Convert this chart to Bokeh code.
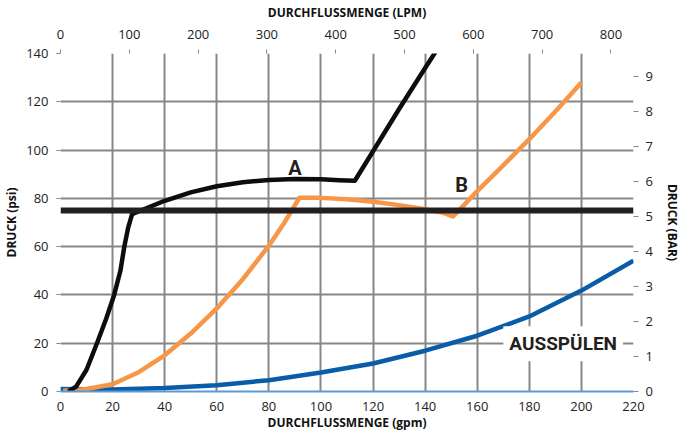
from bokeh.plotting import figure
from bokeh.models import Range1d, LinearAxis, FixedTicker, Span, Label
from bokeh.embed import file_html
from bokeh.resources import INLINE

# ---- data ----
gpm_ticks = [0, 20, 40, 60, 80, 100, 120, 140, 160, 180, 200, 220]
psi_ticks = [0, 20, 40, 60, 80, 100, 120, 140]
lpm_ticks = [0, 100, 200, 300, 400, 500, 600, 700, 800]
bar_ticks = [0, 1, 2, 3, 4, 5, 6, 7, 8, 9]

a_x = [3, 6, 10, 14, 17.5, 20.6, 23, 24.5, 26, 27.5, 32, 40, 50, 60, 70, 80, 90, 100, 107, 113, 120, 130, 140, 146]
a_y = [0, 2, 9, 20, 30, 40, 50, 60, 68, 73.5, 75.5, 79, 82.5, 85, 86.7, 87.6, 88, 87.9, 87.5, 87.3, 99.5, 117, 134, 144]

b_x = [1, 5, 10, 20, 30, 40, 50, 60, 70, 80, 86, 91.7, 100, 110, 120, 130, 140, 147, 150.7, 155, 160, 170, 180, 190, 200]
b_y = [0.3, 0.5, 1, 3, 8, 15, 24, 34.4, 46.5, 60.4, 70, 80.2, 80.2, 79.6, 78.6, 77.2, 75.5, 74, 72.5, 77.3, 83, 93.7, 104.5, 116, 128]

flush_x = [0, 20, 40, 60, 80, 100, 120, 140, 160, 180, 200, 220]
flush_y = [1, 0.8, 1.4, 2.6, 4.7, 7.9, 11.6, 16.9, 23.1, 31.1, 41.8, 54.2]

limit_psi = 75
PSI_PER_BAR = 14.5038
LPM_PER_GPM = 3.78541

FONT = "Open Sans"
GRID = "#878787"

p = figure(frame_width=573, frame_height=338, output_backend="svg", toolbar_location=None,
           x_range=Range1d(0, 220), y_range=Range1d(0, 140),
           min_border_left=0, min_border_right=0, min_border_top=0, min_border_bottom=0)
p.outline_line_color = None
p.background_fill_color = "white"

p.extra_x_ranges = {"lpm": Range1d(0, 220 * LPM_PER_GPM)}
p.extra_y_ranges = {"bar": Range1d(0, 140 / PSI_PER_BAR)}

# grid
p.xgrid.ticker = FixedTicker(ticks=gpm_ticks)
p.ygrid.ticker = FixedTicker(ticks=psi_ticks)
for g in (p.xgrid[0], p.ygrid[0]):
    g.grid_line_color = GRID
    g.grid_line_width = 2

def style_axis(ax):
    ax.major_label_text_font = FONT
    ax.major_label_text_font_size = "13px"
    ax.major_label_text_color = "#222222"
    ax.axis_label_text_font = FONT
    ax.axis_label_text_font_size = "12px"
    ax.axis_label_text_font_style = "bold"
    ax.axis_label_text_color = "#111111"
    ax.minor_tick_line_color = None
    ax.major_tick_line_color = GRID
    ax.major_tick_line_width = 1
    ax.major_tick_in = 0

# bottom
xb = p.xaxis[0]
xb.ticker = FixedTicker(ticks=gpm_ticks)
xb.axis_label = "DURCHFLUSSMENGE (gpm)"
style_axis(xb)
xb.major_tick_line_color = None
xb.major_tick_out = 0
xb.axis_line_color = "#5b9bd5"
xb.axis_line_width = 2
xb.major_label_standoff = 10
xb.axis_label_standoff = 0

# left
yl = p.yaxis[0]
yl.ticker = FixedTicker(ticks=psi_ticks)
yl.axis_label = "DRUCK (psi)"
style_axis(yl)
yl.axis_line_color = None
yl.major_tick_out = 4
yl.major_label_standoff = 8
yl.axis_label_standoff = 3

# top
xt = LinearAxis(x_range_name="lpm", ticker=FixedTicker(ticks=lpm_ticks),
                axis_label="DURCHFLUSSMENGE (LPM)")
style_axis(xt)
xt.axis_line_color = None
xt.major_tick_out = 4
xt.major_label_standoff = 11
xt.axis_label_standoff = 6
p.add_layout(xt, "above")

# right
yr = LinearAxis(y_range_name="bar", ticker=FixedTicker(ticks=bar_ticks),
                axis_label="DRUCK (BAR)")
style_axis(yr)
yr.axis_line_color = None
yr.major_tick_out = 5
yr.major_label_standoff = 7
yr.axis_label_standoff = 8
p.add_layout(yr, "right")

# curves
p.line(flush_x, flush_y, line_color="#0a5ca8", line_width=4.5, line_join="round")
p.line(b_x, b_y, line_color="#f79646", line_width=4.5, line_join="round")
p.line(a_x, a_y, line_color="#0d0d0d", line_width=4.5, line_join="round")

p.add_layout(Span(location=limit_psi, dimension="width", line_color="#231f20", line_width=6))

LBL_FONT = "Roboto"
p.add_layout(Label(x=90, y=92.5, text="A", text_font=LBL_FONT, text_font_style="bold",
                   text_font_size="20px", text_align="center", text_baseline="middle",
                   text_color="#231f20"))
p.add_layout(Label(x=154, y=85.5, text="B", text_font=LBL_FONT, text_font_style="bold",
                   text_font_size="20px", text_align="center", text_baseline="middle",
                   text_color="#231f20"))
p.add_layout(Label(x=193, y=19.8, text="AUSSPÜLEN", text_font=LBL_FONT, text_font_style="bold",
                   text_font_size="19px", text_align="center", text_baseline="middle",
                   text_color="#231f20", background_fill_color="white", padding=6))

open("out.html", "w").write(file_html(p, INLINE))
